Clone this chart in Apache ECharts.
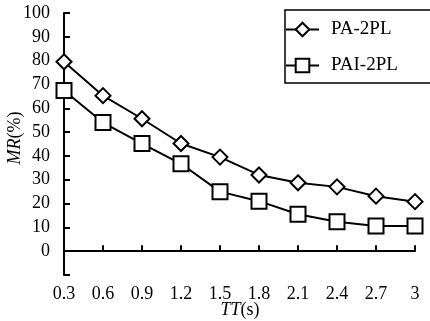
<!DOCTYPE html>
<html>
<head>
    <meta charset="utf-8">
    <script src="https://cdn.jsdelivr.net/npm/echarts@6/dist/echarts.min.js"></script>
    <style>
        html, body { margin: 0; padding: 0; background: #fff; }
        #main { width: 430px; height: 321px; }
    </style>
</head>
<body>
    <div id="main"></div>
    <script type="text/javascript">
        var times = ['0.3', '0.6', '0.9', '1.2', '1.5', '1.8', '2.1', '2.4', '2.7', '3'];
        var paValues = [79.5, 65.3, 55.6, 45.2, 39.5, 32, 28.7, 27, 23.1, 20.8];
        var paiValues = [67.5, 54, 45.2, 36.7, 25, 21, 15.5, 12.4, 10.6, 10.6];

        var font = 'Liberation Serif';
        var richItalic = { i: { fontFamily: font, fontSize: 18, fontStyle: 'italic', fill: '#000' } };
        var myChart = echarts.init(document.getElementById('main'));

        myChart.setOption({
            animation: false,
            textStyle: { fontFamily: font, color: '#000' },
            grid: { left: 64, right: 15, top: 13, bottom: 46, outerBoundsMode: 'none', containLabel: false },
            legend: {
                orient: 'vertical',
                left: 285,
                top: 10,
                padding: [10, 40, 8, 0],
                itemWidth: 33,
                itemHeight: 17,
                itemGap: 17,
                borderColor: '#000',
                borderWidth: 1.5,
                borderRadius: 0,
                textStyle: { fontFamily: font, fontSize: 19, color: '#000', padding: [0, 0, 0, 7] },
                data: ['PA-2PL', 'PAI-2PL']
            },
            // axis titles drawn as text so they sit where the original puts them
            graphic: [
                {
                    type: 'text',
                    x: 240, y: 310,
                    style: {
                        text: '{i|TT}(s)', rich: richItalic,
                        font: '18px "Liberation Serif"', fill: '#000',
                        align: 'center', verticalAlign: 'middle'
                    }
                },
                {
                    type: 'text',
                    x: 15, y: 138,
                    rotation: Math.PI / 2,
                    style: {
                        text: '{i|MR}(%)', rich: richItalic,
                        font: '18px "Liberation Serif"', fill: '#000',
                        align: 'center', verticalAlign: 'middle'
                    }
                }
            ],
            xAxis: {
                type: 'category',
                data: times,
                boundaryGap: false,
                axisLine: { lineStyle: { color: '#000', width: 2 } },
                axisTick: { inside: true, length: 6, lineStyle: { color: '#000', width: 2 } },
                axisLabel: { fontFamily: font, fontSize: 18, color: '#000', margin: 10 }
            },
            yAxis: {
                type: 'value',
                min: -10,
                max: 100,
                interval: 10,
                splitLine: { show: false },
                axisLine: { show: true, lineStyle: { color: '#000', width: 2 } },
                axisTick: { show: true, inside: true, length: 6, lineStyle: { color: '#000', width: 2 } },
                axisLabel: {
                    fontFamily: font, fontSize: 18, color: '#000', margin: 14,
                    formatter: function (v) { return v < 0 ? '' : v; }
                }
            },
            series: [
                {
                    name: 'PA-2PL',
                    type: 'line',
                    data: paValues,
                    symbol: 'diamond',
                    symbolSize: 15,
                    lineStyle: { color: '#000', width: 2 },
                    itemStyle: { color: '#fff', borderColor: '#000', borderWidth: 2 }
                },
                {
                    name: 'PAI-2PL',
                    type: 'line',
                    data: paiValues,
                    symbol: 'rect',
                    symbolSize: 15,
                    lineStyle: { color: '#000', width: 2 },
                    itemStyle: { color: '#fff', borderColor: '#000', borderWidth: 2 }
                }
            ]
        });
    </script>
</body>
</html>
